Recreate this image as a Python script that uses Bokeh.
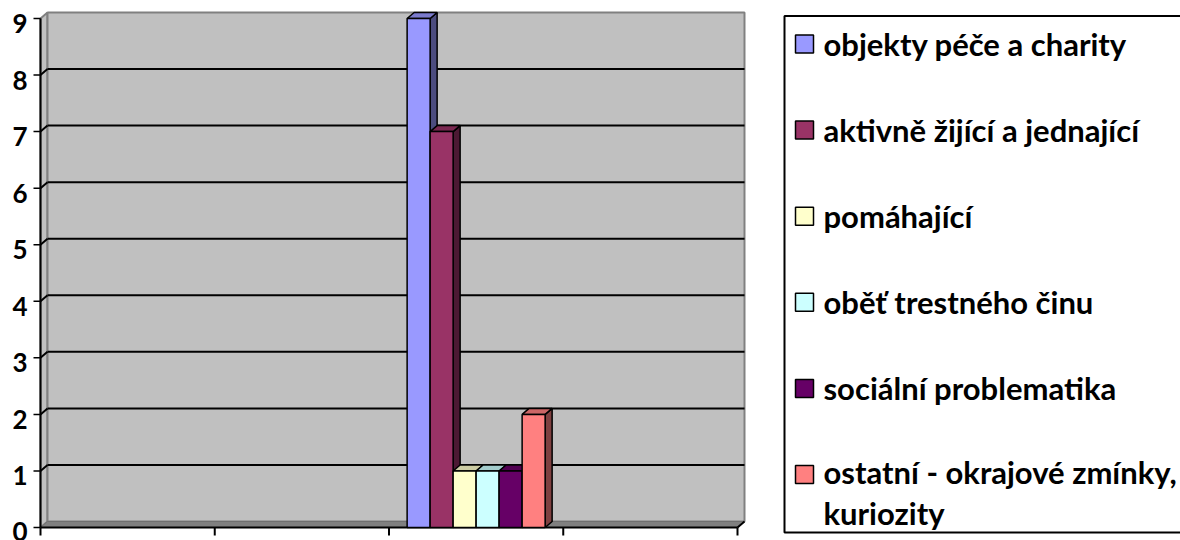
from bokeh.plotting import figure
from bokeh.models import Range1d, FixedTicker
from bokeh.embed import file_html
from bokeh.resources import INLINE
from bokeh.core.properties import value

# ---- data ----
series_names = [
    "objekty péče a charity",
    "aktivně žijící a jednající",
    "pomáhající",
    "oběť trestného činu",
    "sociální problematika",
    "ostatní - okrajové zmínky,\nkuriozity",
]
series_values = [9, 7, 1, 1, 1, 2]
series_colors = ["#9999FF", "#993366", "#FFFFCC", "#CCFFFF", "#660066", "#FF8080"]
category_slots = ["", "", "", ""]     # four category slots on the x axis
data_category = 2                      # the values sit in the third slot
y_ticks = [0, 1, 2, 3, 4, 5, 6, 7, 8, 9]

# ---- styling / geometry (pixels) ----
FONT = "Lato"
W, H = 1180, 540
x0_px, y0_px = 40, 527          # screen position of the axes origin
px_x = 174.25                   # pixels per category
px_y = 509.0 / 9                # pixels per value unit
frame_left, frame_top = 32, 10

n_cat = len(category_slots)
y_max = max(y_ticks)
dx = 7 / px_x                   # 3-D depth offset
dy = 6 / px_y
bar_w = 23 / px_x


def X(px):
    return (px - x0_px) / px_x


def Y(py):
    return (y0_px - py) / px_y


def shade(hex_color, f):
    h = hex_color.lstrip("#")
    r, g, b = (int(h[i:i + 2], 16) for i in (0, 2, 4))
    return "#%02x%02x%02x" % (int(r * f), int(g * f), int(b * f))


y_start, y_end = Y(H), Y(frame_top)
p = figure(
    width=W, height=H,
    x_range=Range1d(X(frame_left), X(W)),
    y_range=Range1d(y_start, y_end),
    x_axis_location=None,
    output_backend="svg", toolbar_location=None,
    min_border_left=frame_left, min_border_right=0,
    min_border_top=frame_top, min_border_bottom=0,
)
p.outline_line_color = None
p.grid.visible = False
p.background_fill_color = "white"
p.border_fill_color = "white"

# walls and floor
p.patch([0, dx, dx, 0], [0, dy, y_max + dy, y_max], fill_color="#C0C0C0",
        line_color="#808080", line_width=2)
p.patch([dx, n_cat + dx, n_cat + dx, dx], [dy, dy, y_max + dy, y_max + dy],
        fill_color="#C0C0C0", line_color="#808080", line_width=2)
p.patch([0, n_cat, n_cat + dx, dx], [0, 0, dy, dy], fill_color="#808080",
        line_color="#707070", line_width=1)

# gridlines on the back wall and the side wall
grid_vals = [v for v in y_ticks if 0 < v < y_max]
p.segment(x0=[dx] * len(grid_vals), y0=[v + dy for v in grid_vals],
          x1=[n_cat + dx] * len(grid_vals), y1=[v + dy for v in grid_vals],
          line_color="black", line_width=2)
p.segment(x0=[0] * len(grid_vals), y0=grid_vals,
          x1=[dx] * len(grid_vals), y1=[v + dy for v in grid_vals],
          line_color="black", line_width=2)

# value axis line and its ticks
p.segment(x0=[0], y0=[0], x1=[0], y1=[y_max], line_color="black", line_width=2)
p.segment(x0=[-7 / px_x] * len(y_ticks), y0=y_ticks, x1=[0] * len(y_ticks), y1=y_ticks,
          line_color="black", line_width=1.5)

# category baseline, its 3-D end, and category ticks
p.segment(x0=[0], y0=[0], x1=[n_cat], y1=[0], line_color="black", line_width=2)
p.segment(x0=[n_cat], y0=[0], x1=[n_cat + dx], y1=[dy], line_color="black", line_width=2)
tick_x = list(range(n_cat + 1))
p.segment(x0=tick_x, y0=[0] * len(tick_x), x1=tick_x, y1=[-8 / px_y] * len(tick_x),
          line_color="black", line_width=2)

# bars
n = len(series_values)
center = data_category + 0.5
for i, (v, c) in enumerate(zip(series_values, series_colors)):
    xc = center + (i - (n - 1) / 2) * bar_w
    l, r = xc - bar_w / 2, xc + bar_w / 2
    p.patch([r, r + dx, r + dx, r], [0, dy, v + dy, v], fill_color=shade(c, 0.5),
            line_color="black", line_width=1.5)
    p.patch([l, r, r + dx, l + dx], [v, v, v + dy, v + dy], fill_color=shade(c, 0.8),
            line_color="black", line_width=1.5)
    p.quad(left=[l], right=[r], bottom=[0], top=[v], fill_color=c,
           line_color="black", line_width=1.5)

# value-axis labels (drawn a few pixels below their ticks, as in the original)
off = 5 / px_y
p.extra_y_ranges = {"lbl": Range1d(y_start + off, y_end + off)}
ax = p.yaxis[0]
ax.y_range_name = "lbl"
ax.ticker = FixedTicker(ticks=y_ticks)
ax.axis_line_color = None
ax.major_tick_line_color = None
ax.minor_tick_line_color = None
ax.major_tick_out = 0
ax.major_tick_in = 0
ax.major_label_standoff = 5
ax.major_label_text_font = FONT
ax.major_label_text_font_style = "bold"
ax.major_label_text_font_size = "26px"
ax.major_label_text_color = "black"

# legend box
leg_left, leg_top, leg_bottom, leg_right = 784, 15.5, 532, 1200
p.quad(left=[X(leg_left)], right=[X(leg_right)], top=[Y(leg_top)], bottom=[Y(leg_bottom)],
       fill_color="white", line_color="black", line_width=2)
first_c, step = 43.5, 86.1
centers_px = [first_c + k * step for k in range(n)]
p.rect(x=[X(804)] * n, y=[Y(c) for c in centers_px], width=18, height=18,
       width_units="screen", height_units="screen",
       fill_color=series_colors, line_color="black", line_width=1.5)
font_px = 31
line_gap = 36                       # pixels between wrapped lines
line_h = line_gap / 33.3
text_y = [Y(c + name.count("\n") * line_gap / 2) for c, name in zip(centers_px, series_names)]
p.text(x=[X(823)] * n, y=text_y, text=series_names,
       text_font=value(FONT), text_font_style="bold", text_font_size=f"{font_px}px",
       text_color="black", text_align="left", text_baseline="middle",
       text_line_height=line_h)

open("out.html", "w").write(file_html(p, INLINE))
